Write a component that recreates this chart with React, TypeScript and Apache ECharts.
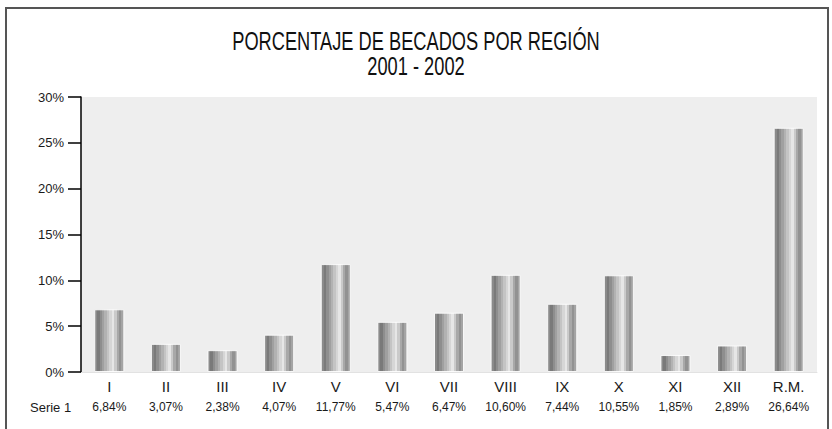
import React, { useEffect, useRef } from "react";
import * as echarts from "echarts";

const categories = ["I", "II", "III", "IV", "V", "VI", "VII", "VIII", "IX", "X", "XI", "XII", "R.M."];
const values = [6.84, 3.07, 2.38, 4.07, 11.77, 5.47, 6.47, 10.6, 7.44, 10.55, 1.85, 2.89, 26.64];
const seriesName = "Serie 1";
const titleLines = ["PORCENTAJE DE BECADOS POR REGIÓN", "2001 - 2002"];

const stripeColors = [
  "#8a8a8a", "#7a7a7a", "#8e8e8e", "#a0a0a0", "#b2b2b2", "#c4c4c4",
  "#d6d6d6", "#e6e6e6", "#cacaca", "#a8a8a8", "#929292", "#a4a4a4",
];

function makeStops() {
  const stops: { offset: number; color: string }[] = [];
  const n = stripeColors.length;
  stripeColors.forEach((c, i) => {
    stops.push({ offset: i / n, color: c });
    stops.push({ offset: (i + 1) / n - 0.0001, color: c });
  });
  return stops;
}

const labelFont = "Liberation Sans, Arial, sans-serif";

export default function App() {
  const ref = useRef<HTMLDivElement>(null);
  useEffect(() => {
    document.body.style.margin = "0";
    const chart = echarts.init(ref.current!, undefined, { renderer: "svg" });
    const fmt = (v: number) => v.toFixed(2).replace(".", ",") + "%";
    chart.setOption({
      animation: false,
      backgroundColor: "#ffffff",
      grid: {
        left: 81,
        right: 15,
        top: 97,
        bottom: 57,
        show: true,
        backgroundColor: "#eeeeee",
        borderWidth: 0,
      },
      xAxis: [
        {
          type: "category",
          data: categories,
          axisLine: { show: true, lineStyle: { color: "#e2e2e2", width: 1 } },
          axisTick: { show: false },
          axisLabel: {
            margin: 7,
            fontSize: 15,
            color: "#1a1a1a",
            fontFamily: labelFont,
          },
        },
        {
          type: "category",
          position: "bottom",
          data: values.map(fmt),
          axisLine: { show: false },
          axisTick: { show: false },
          axisLabel: {
            margin: 29,
            fontSize: 12,
            color: "#1a1a1a",
            fontFamily: labelFont,
          },
        },
      ],
      yAxis: {
        type: "value",
        min: 0,
        max: 30,
        interval: 5,
        axisLine: { show: true, lineStyle: { color: "#000", width: 1.5 } },
        axisTick: { show: true, length: 13, lineStyle: { color: "#000", width: 1.5 } },
        axisLabel: {
          formatter: "{value}%",
          fontSize: 13,
          color: "#1a1a1a",
          margin: 17,
          fontFamily: labelFont,
        },
        splitLine: { show: false },
      },
      graphic: [
        {
          type: "rect",
          shape: { x: 6, y: 8, width: 822, height: 440 },
          style: { fill: "none", stroke: "#555555", lineWidth: 2 },
          silent: true,
        },
        {
          type: "text",
          x: 416,
          y: 41,
          scaleX: 0.73,
          style: {
            text: titleLines[0],
            fontSize: 25,
            fill: "#111",
            fontFamily: labelFont,
            align: "center",
            verticalAlign: "middle",
          },
        },
        {
          type: "text",
          x: 416,
          y: 66,
          scaleX: 0.73,
          style: {
            text: titleLines[1],
            fontSize: 25,
            fill: "#111",
            fontFamily: labelFont,
            align: "center",
            verticalAlign: "middle",
          },
        },
        {
          type: "text",
          x: 30,
          y: 407,
          style: {
            text: seriesName,
            fontSize: 13,
            fill: "#1a1a1a",
            fontFamily: labelFont,
            verticalAlign: "middle",
          },
        },
      ],
      series: [
        {
          name: seriesName,
          type: "bar",
          xAxisIndex: 0,
          data: values,
          barWidth: 30,
          itemStyle: {
            color: new echarts.graphic.LinearGradient(0, 0, 1, 0, makeStops()),
            borderColor: "rgba(255,255,255,0.85)",
            borderWidth: 1,
          },
        },
      ],
    });
    return () => chart.dispose();
  }, []);
  return <div ref={ref} style={{ width: 832, height: 429 }} />;
}
